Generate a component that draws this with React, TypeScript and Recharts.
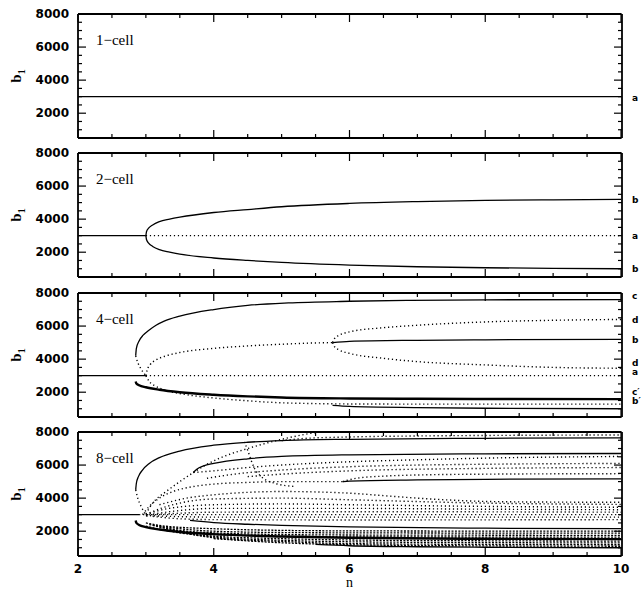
import React from 'react';
import { LineChart, Line, XAxis, YAxis } from 'recharts';

type P = [number, number][];

// ---------- axis ticks ----------
const xTicks = [2, 2.5, 3, 3.5, 4, 4.5, 5, 5.5, 6, 6.5, 7, 7.5, 8, 8.5, 9, 9.5, 10];
const xMajor = [2, 4, 6, 8, 10];
const yTicks = [500, 1000, 1500, 2000, 2500, 3000, 3500, 4000, 4500, 5000, 5500, 6000, 6500, 7000, 7500, 8000];
const yMajor = [2000, 4000, 6000, 8000];

// ---------- 1-cell ----------
const p1_a: P = [[2, 3000], [10, 3000]];
const p1LabelText = ['a'];
const p1LabelPos = [2920];

// ---------- 2-cell ----------
const p2_a: P = [[2, 3000], [3, 3000]];
const p2_a_dot: P = [[3, 3000], [10, 3000]];
const p2_b_up: P = [[3, 3000], [3.01, 3250], [3.04, 3450], [3.1, 3650], [3.2, 3850], [3.35, 4000], [3.5, 4120], [4, 4400], [4.5, 4580], [5, 4750], [6, 4950], [7, 5060], [8, 5130], [9, 5170], [10, 5200]];
const p2_b_dn: P = [[3, 3000], [3.01, 2750], [3.04, 2550], [3.1, 2350], [3.2, 2150], [3.35, 2000], [3.5, 1880], [4, 1650], [4.5, 1500], [5, 1380], [6, 1220], [7, 1120], [8, 1060], [9, 1020], [10, 1000]];
const p2LabelText = ['b', 'a', 'b'];
const p2LabelPos = [5157, 2980, 988];

// ---------- 4-cell ----------
const p3_a: P = [[2, 3000], [3, 3000]];
const p3_a_dot: P = [[3, 3000], [10, 3000]];
const p3_c_up: P = [[2.85, 4200], [2.86, 4650], [2.9, 5100], [2.96, 5450], [3.03, 5700], [3.15, 6050], [3.27, 6300], [3.5, 6600], [4, 7000], [4.5, 7250], [5.1, 7400], [6, 7500], [6.9, 7560], [8, 7590], [10, 7600]];
const p3_nose: P = [[2.85, 4200], [2.88, 3800], [2.93, 3400], [3, 3000]];
const p3_bp_dot: P = [[3, 3000], [3.05, 2650], [3.15, 2350], [3.3, 2100], [3.6, 1850], [4, 1650], [4.5, 1480], [5, 1360], [6, 1290], [7, 1280], [8, 1280], [10, 1280]];
const p3_bp: P = [[5.75, 1200], [6, 1140], [7, 1070], [8, 1030], [10, 1000]];
const p3_cp: P = [[2.85, 2650], [2.86, 2520], [2.9, 2420], [3, 2300], [3.2, 2150], [3.5, 2000], [4, 1850], [4.5, 1750], [5, 1680], [6, 1620], [7, 1600], [8, 1590], [10, 1580]];
const p3_b_dot: P = [[3, 3000], [3.02, 3350], [3.06, 3650], [3.15, 3950], [3.3, 4200], [3.5, 4400], [4, 4650], [4.5, 4800], [5, 4900], [5.5, 4980], [5.75, 5000]];
const p3_b: P = [[5.75, 5000], [6, 5080], [7, 5140], [8, 5170], [10, 5200]];
const p3_d_up: P = [[5.75, 5000], [5.78, 5250], [5.85, 5450], [6, 5650], [6.5, 5900], [7, 6050], [8, 6250], [9, 6350], [10, 6400]];
const p3_d_dn: P = [[5.75, 5000], [5.78, 4750], [5.85, 4550], [6, 4350], [6.5, 4050], [7, 3850], [8, 3650], [9, 3500], [10, 3450]];
const p3LabelText = ['c', 'd', 'b', 'd', 'a', 'c\u2032', 'b\u2032'];
const p3LabelPos = [7820, 6367, 5157, 3770, 3220, 2010, 1460];

// ---------- 8-cell ----------
const p4_a: P = [[2, 3000], [2.9, 3000]];
const p4_a_dot: P = [[2.9, 3000], [10, 3000]];
const p4_top: P = [[2.85, 4500], [2.86, 4900], [2.89, 5300], [2.95, 5700], [3.05, 6100], [3.2, 6450], [3.5, 6850], [4, 7200], [4.5, 7380], [5, 7480], [6, 7560], [8, 7620], [10, 7650]];
const p4_nose: P = [[2.85, 4500], [2.88, 4000], [2.93, 3500], [3, 3000], [3.05, 2800]];
const p4_topdot1: P = [[3.7, 5550], [3.9, 6050], [4.2, 6600], [4.5, 7000], [4.8, 7350], [5.1, 7650], [5.4, 7900], [5.55, 8000]];
const p4_topdot2: P = [[5, 7480], [5.3, 7600], [6, 7700], [7, 7760], [8, 7790], [10, 7820]];
const p4_solid2: P = [[3.7, 5550], [3.75, 5750], [3.85, 5950], [4, 6100], [4.5, 6380], [5, 6520], [6, 6620], [8, 6680], [10, 6700]];
const p4_u1: P = [[3.7, 5550], [4, 5650], [4.5, 5850], [5, 6000], [6, 6200], [7, 6320], [8, 6420], [10, 6520]];
const p4_u2: P = [[3.9, 5200], [4.3, 5450], [5, 5700], [6, 5900], [7, 6000], [8, 6050], [10, 6100]];
const p4_u3: P = [[4.5, 5300], [5, 5450], [6, 5650], [8, 5800], [10, 5850]];
const p4_node_in: P = [[3, 3050], [3.1, 3700], [3.3, 4400], [3.5, 5000], [3.7, 5550]];
const p4_bdot: P = [[2.95, 3000], [3.05, 3500], [3.2, 4000], [3.4, 4400], [3.7, 4700], [4, 4850], [4.5, 4950], [5, 5000], [5.5, 5000], [5.9, 5000]];
const p4_arc: P = [[4.45, 7400], [4.5, 6900], [4.55, 6300], [4.6, 5800], [4.7, 5300], [4.9, 4900], [5.2, 4700]];
const p4_b: P = [[5.9, 5000], [6, 5030], [7, 5100], [8, 5140], [10, 5170]];
const p4_bup: P = [[5.9, 5000], [6.1, 5200], [6.5, 5330], [7, 5400], [8, 5450], [10, 5480]];
const p4_decl: P = [[3.2, 3600], [3.6, 4000], [4, 4200], [4.5, 4350], [5, 4400], [6, 4300], [6.5, 4150], [7, 4000], [7.5, 3880], [8, 3800], [9, 3760], [10, 3750]];
const p4_m1: P = [[3, 3000], [3.2, 3350], [3.5, 3700], [4, 3950], [5, 4000], [6, 3900], [8, 3700], [10, 3620]];
const p4_m2: P = [[3, 3000], [3.3, 3350], [4, 3600], [5, 3650], [6, 3600], [8, 3500], [10, 3450]];
const p4_m3: P = [[3.05, 3000], [3.5, 3250], [4, 3380], [6, 3380], [8, 3330], [10, 3300]];
const p4_m4: P = [[3.1, 3000], [4, 3150], [6, 3180], [10, 3150]];
const p4_m5: P = [[3, 2950], [3.5, 2880], [4, 2850], [6, 2850], [10, 2850]];
const p4_m6: P = [[3.1, 2900], [3.5, 2750], [4, 2700], [6, 2680], [10, 2700]];
const p4_lsolid: P = [[3.65, 2650], [4, 2520], [4.5, 2420], [5, 2350], [6, 2260], [8, 2180], [10, 2150]];
const p4_thick: P = [[2.85, 2650], [2.86, 2500], [2.9, 2380], [3, 2250], [3.2, 2100], [3.5, 1950], [4, 1820], [5, 1680], [6, 1600], [8, 1540], [10, 1520]];
const p4_l1: P = [[3, 2500], [3.3, 2300], [4, 2150], [5, 2050], [6, 2020], [10, 2000]];
const p4_l2: P = [[3.05, 2400], [3.5, 2150], [4, 2000], [5, 1920], [6, 1900], [10, 1880]];
const p4_l3: P = [[3.1, 2350], [3.5, 2050], [4, 1900], [5, 1800], [6, 1770], [10, 1750]];
const p4_l4: P = [[3.2, 2250], [3.6, 1950], [4, 1800], [5, 1700], [6, 1660], [10, 1640]];
const p4_l5: P = [[3, 2300], [3.5, 1900], [4, 1700], [5, 1550], [6, 1470], [8, 1420], [10, 1400]];
const p4_l6: P = [[3.3, 2100], [4, 1650], [5, 1450], [6, 1360], [8, 1310], [10, 1290]];
const p4_l7: P = [[3.5, 1950], [4, 1600], [5, 1380], [6, 1250], [8, 1200], [10, 1180]];
const p4_l8: P = [[4, 1550], [5, 1300], [6, 1180], [8, 1110], [10, 1090]];
const p4_bottom: P = [[5.5, 1200], [6, 1120], [7, 1060], [8, 1030], [10, 1000]];

// ---------- styles ----------
type Kind = 'solid' | 'thick' | 'dot' | 'dash';
const STYLE: Record<Kind, { w: number; dash?: string }> = {
  solid: { w: 1.3 },
  thick: { w: 2.4 },
  dot: { w: 1.4, dash: '1.2 2.8' },
  dash: { w: 1.3, dash: '2 1.4' },
};

type Series = { pts: P; kind: Kind };

const panel1: Series[] = [{ pts: p1_a, kind: 'solid' }];
const panel2: Series[] = [
  { pts: p2_a, kind: 'solid' },
  { pts: p2_a_dot, kind: 'dot' },
  { pts: p2_b_up, kind: 'solid' },
  { pts: p2_b_dn, kind: 'solid' },
];
const panel3: Series[] = [
  { pts: p3_a, kind: 'solid' },
  { pts: p3_a_dot, kind: 'dot' },
  { pts: p3_c_up, kind: 'solid' },
  { pts: p3_nose, kind: 'dot' },
  { pts: p3_bp_dot, kind: 'dot' },
  { pts: p3_bp, kind: 'solid' },
  { pts: p3_cp, kind: 'thick' },
  { pts: p3_b_dot, kind: 'dot' },
  { pts: p3_b, kind: 'solid' },
  { pts: p3_d_up, kind: 'dot' },
  { pts: p3_d_dn, kind: 'dot' },
];
const panel4: Series[] = [
  { pts: p4_a, kind: 'solid' },
  { pts: p4_a_dot, kind: 'dot' },
  { pts: p4_top, kind: 'solid' },
  { pts: p4_nose, kind: 'dot' },
  { pts: p4_topdot1, kind: 'dot' },
  { pts: p4_topdot2, kind: 'dot' },
  { pts: p4_solid2, kind: 'solid' },
  { pts: p4_u1, kind: 'dot' },
  { pts: p4_u2, kind: 'dot' },
  { pts: p4_u3, kind: 'dot' },
  { pts: p4_node_in, kind: 'dot' },
  { pts: p4_bdot, kind: 'dot' },
  { pts: p4_arc, kind: 'dot' },
  { pts: p4_b, kind: 'solid' },
  { pts: p4_bup, kind: 'dot' },
  { pts: p4_decl, kind: 'dot' },
  { pts: p4_m1, kind: 'dot' },
  { pts: p4_m2, kind: 'dot' },
  { pts: p4_m3, kind: 'dot' },
  { pts: p4_m4, kind: 'dot' },
  { pts: p4_m5, kind: 'dot' },
  { pts: p4_m6, kind: 'dot' },
  { pts: p4_lsolid, kind: 'solid' },
  { pts: p4_thick, kind: 'thick' },
  { pts: p4_l1, kind: 'dash' },
  { pts: p4_l2, kind: 'dash' },
  { pts: p4_l3, kind: 'dash' },
  { pts: p4_l4, kind: 'dash' },
  { pts: p4_l5, kind: 'dash' },
  { pts: p4_l6, kind: 'dash' },
  { pts: p4_l7, kind: 'dash' },
  { pts: p4_l8, kind: 'dash' },
  { pts: p4_bottom, kind: 'solid' },
];

const W = 643;
const H = 124;
const PL = 78; // plot left
const PR = 621; // plot right
const TICK_FONT = { fontFamily: '"DejaVu Sans", sans-serif', fontSize: 12, fontWeight: 700 as const };

const XTick = (props: any) => {
  const { x, y, payload, dir, showLabel } = props;
  const major = xMajor.includes(payload.value);
  const len = major ? 8 : 4;
  return (
    <g>
      <line x1={x} x2={x} y1={y} y2={y + dir * len} stroke="#000" strokeWidth={1.2} />
      {showLabel && major ? (
        <text x={x} y={y + 13} textAnchor="middle" dominantBaseline="central" fill="#000" {...TICK_FONT}>
          {payload.value}
        </text>
      ) : null}
    </g>
  );
};

const YTick = (props: any) => {
  const { x, y, payload, dir, showLabel } = props;
  const major = yMajor.includes(payload.value);
  const len = major ? 8 : 4;
  return (
    <g>
      <line x1={x} x2={x + dir * len} y1={y} y2={y} stroke="#000" strokeWidth={1.2} />
      {showLabel && major ? (
        <text x={x - 9} y={y} textAnchor="end" dominantBaseline="central" fill="#000" {...TICK_FONT}>
          {payload.value}
        </text>
      ) : null}
    </g>
  );
};

const makeLabelTick = (texts: string[]) => (props: any) => {
  const { x, y, index } = props;
  return (
    <text x={x + 11} y={y} textAnchor="start" dominantBaseline="central" fill="#000"
      fontFamily='"DejaVu Sans", sans-serif' fontSize={9} fontWeight={700}>
      {texts[index]}
    </text>
  );
};

const axisLine = { stroke: '#000', strokeWidth: 1.8 };

function Panel({ top, series, labelText, labelPos, showX }: { top: number; series: Series[]; labelText: string[]; labelPos: number[]; showX: boolean }) {
  const mt = 6;
  const mb = showX ? 30 : 6;
  const LabelTick = makeLabelTick(labelText);
  return (
    <div style={{ position: 'absolute', left: 0, top: top - mt, width: W, height: H + mt + mb }}>
      <LineChart width={W} height={H + mt + mb} margin={{ top: mt - 1, bottom: mb - 1, left: PL - 1, right: W - PR - 2 }}>
        <XAxis xAxisId="b" dataKey="n" type="number" domain={[2, 10]} allowDataOverflow ticks={xTicks} interval={0}
          height={1} tickSize={0} tickMargin={0} tickLine={false} axisLine={axisLine}
          tick={(p: any) => <XTick {...p} dir={-1} showLabel={showX} />} />
        <XAxis xAxisId="t" orientation="top" dataKey="n" type="number" domain={[2, 10]} allowDataOverflow ticks={xTicks} interval={0}
          height={1} tickSize={0} tickMargin={0} tickLine={false} axisLine={axisLine}
          tick={(p: any) => <XTick {...p} dir={1} showLabel={false} />} />
        <YAxis yAxisId="l" type="number" domain={[500, 8000]} allowDataOverflow ticks={yTicks} interval={0}
          width={1} tickSize={0} tickMargin={0} tickLine={false} axisLine={axisLine}
          tick={(p: any) => <YTick {...p} dir={1} showLabel={true} />} />
        <YAxis yAxisId="r" orientation="right" type="number" domain={[500, 8000]} allowDataOverflow ticks={yTicks} interval={0}
          width={1} tickSize={0} tickMargin={0} tickLine={false} axisLine={axisLine}
          tick={(p: any) => <YTick {...p} dir={-1} showLabel={false} />} />
        <YAxis yAxisId="lab" orientation="right" type="number" domain={[500, 8000]} allowDataOverflow ticks={labelPos} interval={0}
          width={1} tickSize={0} tickMargin={0} tickLine={false} axisLine={false}
          tick={LabelTick} />
        {series.map((s, i) => (
          <Line key={i} xAxisId="b" yAxisId="l" type="monotone" data={s.pts.map(([n, v]) => ({ n, v }))} dataKey="v"
            stroke="#000" strokeWidth={STYLE[s.kind].w} strokeDasharray={STYLE[s.kind].dash}
            dot={false} activeDot={false} isAnimationActive={false} />
        ))}
      </LineChart>
    </div>
  );
}

const panelTops = [14, 153, 293, 432];
const titles = ['1\u2212cell', '2\u2212cell', '4\u2212cell', '8\u2212cell'];

export default function App() {
  return (
    <div style={{ position: 'absolute', left: 0, top: 0, width: W, height: 590, background: '#fff', overflow: 'hidden' }}>
      <Panel top={panelTops[0]} series={panel1} labelText={p1LabelText} labelPos={p1LabelPos} showX={false} />
      <Panel top={panelTops[1]} series={panel2} labelText={p2LabelText} labelPos={p2LabelPos} showX={false} />
      <Panel top={panelTops[2]} series={panel3} labelText={p3LabelText} labelPos={p3LabelPos} showX={false} />
      <Panel top={panelTops[3]} series={panel4} labelText={[]} labelPos={[]} showX={true} />
      <svg width={W} height={590} style={{ position: 'absolute', left: 0, top: 0, pointerEvents: 'none' }}>
        {panelTops.map((t, i) => (
          <g key={i}>
            <text x={96} y={t + 26} dominantBaseline="central" fontFamily='"Liberation Serif", serif' fontSize={15} fill="#000">
              {titles[i]}
            </text>
            <text transform={`translate(21, ${t + 62}) rotate(-90)`} textAnchor="middle" fontFamily='"Liberation Serif", serif' fontSize={15} fontWeight={700} fill="#000">
              b<tspan fontSize={10} dy={4}>1</tspan>
            </text>
          </g>
        ))}
        <text x={349.5} y={582} textAnchor="middle" dominantBaseline="central" fontFamily='"Liberation Serif", serif' fontSize={14} fill="#000">n</text>
      </svg>
    </div>
  );
}
